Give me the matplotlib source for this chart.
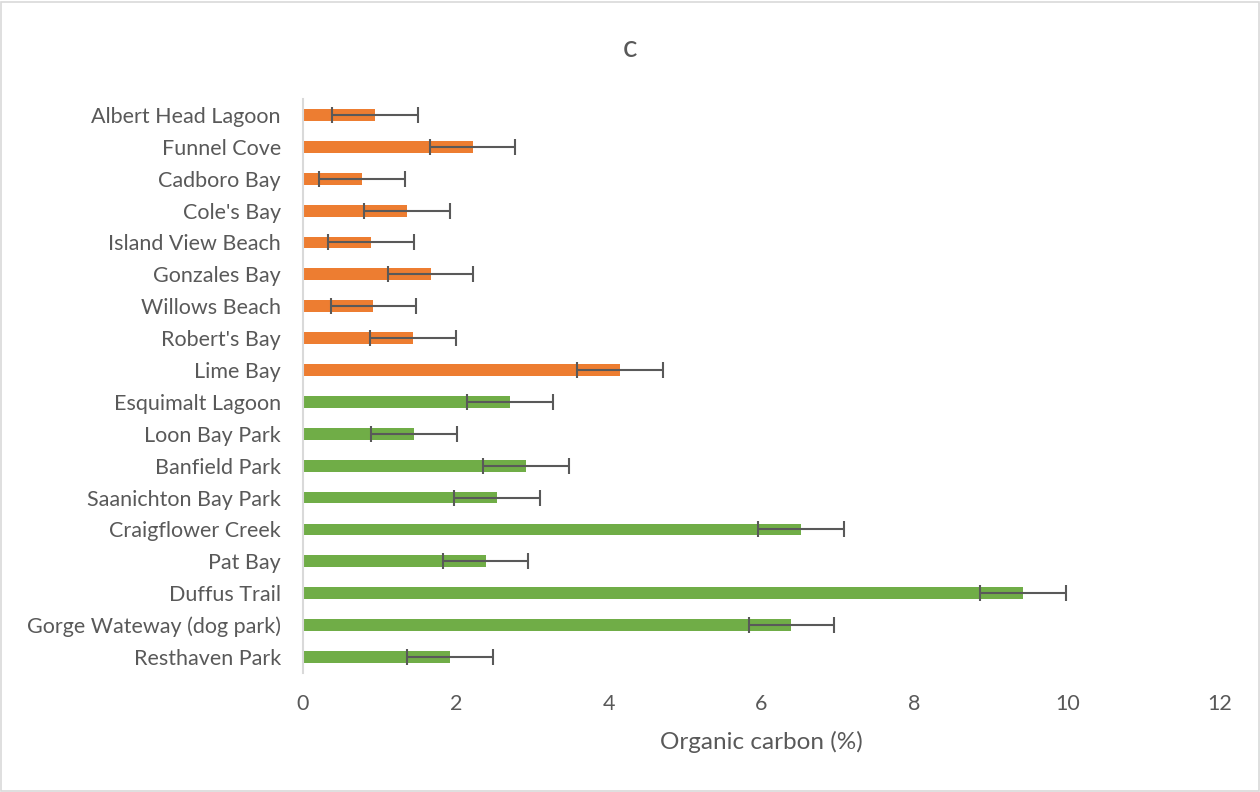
import matplotlib
matplotlib.use("Agg")
import matplotlib.pyplot as plt
from matplotlib.patches import Rectangle

# Sites, top to bottom
sites = [
    "Albert Head Lagoon", "Funnel Cove", "Cadboro Bay", "Cole's Bay",
    "Island View Beach", "Gonzales Bay", "Willows Beach", "Robert's Bay",
    "Lime Bay", "Esquimalt Lagoon", "Loon Bay Park", "Banfield Park",
    "Saanichton Bay Park", "Craigflower Creek", "Pat Bay", "Duffus Trail",
    "Gorge Wateway (dog park)", "Resthaven Park",
]
organic_carbon = [
    0.94, 2.22, 0.77, 1.36, 0.89, 1.67, 0.92, 1.44, 4.15,
    2.71, 1.45, 2.92, 2.54, 6.52, 2.39, 9.42, 6.39, 1.92,
]
error = [0.56] * len(sites)
group = ["marine"] * 9 + ["terrestrial"] * 9
group_colors = {"marine": "#ED7D31", "terrestrial": "#70AD47"}
x_ticks = [0, 2, 4, 6, 8, 10, 12]

plt.rcParams["font.family"] = ["Lato", "DejaVu Sans"]
text_color = "#595959"

fig = plt.figure(figsize=(12.6, 7.92), dpi=100)
ax = fig.add_axes([0.2405, 0.1503, 0.9683 - 0.2405, 0.875 - 0.1503])

ypos = list(range(len(sites)))
colors = [group_colors[g] for g in group]
ax.barh(ypos, organic_carbon, height=0.37, color=colors, zorder=2)
ax.errorbar(organic_carbon, ypos, xerr=error, fmt="none", ecolor=text_color,
            elinewidth=1.5, capsize=6, capthick=1.5, zorder=3)

ax.set_ylim(len(sites) - 0.5, -0.5)
ax.set_xlim(0, 12)
ax.set_yticks(ypos)
ax.set_yticklabels(sites)
ax.set_xticks(x_ticks)
ax.set_xticklabels([str(t) for t in x_ticks])

for side in ["top", "right", "bottom"]:
    ax.spines[side].set_visible(False)
ax.spines["left"].set_color("#d9d9d9")
ax.spines["left"].set_linewidth(1.5)

ax.tick_params(axis="y", length=0, pad=16, labelsize=15.5, labelcolor=text_color)
ax.tick_params(axis="x", length=0, pad=15, labelsize=15.5, labelcolor=text_color)
ax.set_xlabel("Organic carbon (%)", fontsize=17.5, color=text_color, labelpad=12)

fig.text(0.5, 1 - 48 / 792, "c", ha="center", va="center", fontsize=22, color=text_color)

# Chart-area border
fig.patches.append(Rectangle((0.0008, 0.001), 0.9984, 0.997, transform=fig.transFigure,
                             fill=False, edgecolor="#d9d9d9", linewidth=1.2))

fig.savefig("out.png", dpi=100, facecolor="white")
